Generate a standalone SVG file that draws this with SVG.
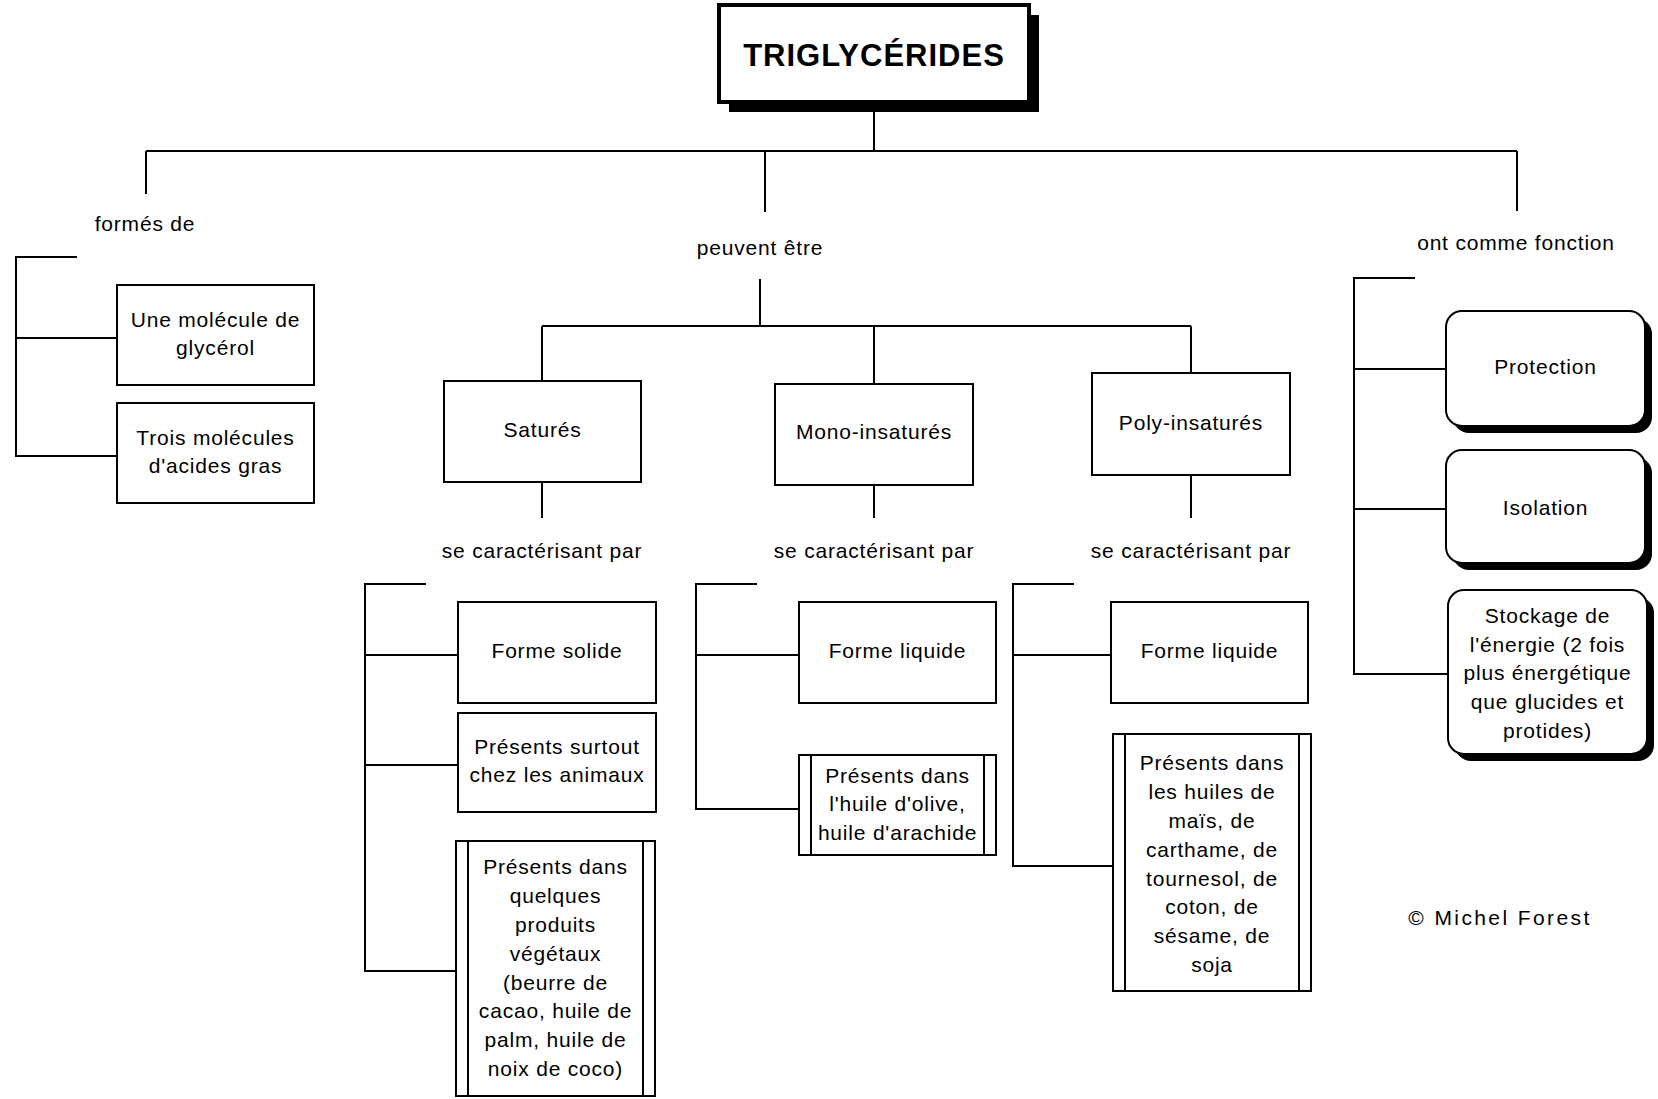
<svg xmlns="http://www.w3.org/2000/svg" width="1658" height="1099" viewBox="0 0 1658 1099">
  <style>
    .ln { stroke:#000; stroke-width:2; fill:none; }
    .box { fill:#fff; stroke:#000; stroke-width:2; }
    .shadow { fill:#000; }
    .t { font-family:"Liberation Sans", Arial, sans-serif; font-size:21px; letter-spacing:0.8px; fill:#000; text-anchor:middle; }
    .title { font-family:"Liberation Sans", Arial, sans-serif; font-size:31px; font-weight:bold; letter-spacing:1px; fill:#000; text-anchor:middle; }
    .copy { font-family:"Liberation Sans", Arial, sans-serif; font-size:21px; letter-spacing:2.4px; fill:#000; text-anchor:middle; }
  </style>
  <rect width="1658" height="1099" fill="#fff"/>

  <!-- tree connectors -->
  <g id="connectors" class="ln">
    <path d="M874 103 V151"/>
    <path d="M146 151 H1517"/>
    <path d="M146 151 V194"/>
    <path d="M765 151 V212"/>
    <path d="M1517 151 V211"/>
    <!-- formés de -->
    <path d="M77 257 H16 V456 H117"/>
    <path d="M16 338 H117"/>
    <!-- peuvent être -->
    <path d="M760 279 V326"/>
    <path d="M542 326 H1191"/>
    <path d="M542 326 V381"/>
    <path d="M874 326 V384"/>
    <path d="M1191 326 V373"/>
    <path d="M542 482 V518"/>
    <path d="M874 485 V518"/>
    <path d="M1191 475 V518"/>
    <!-- saturés -->
    <path d="M426 584 H365 V971 H456"/>
    <path d="M365 655 H458"/>
    <path d="M365 765 H458"/>
    <!-- mono-insaturés -->
    <path d="M757 584 H696 V809 H799"/>
    <path d="M696 655 H799"/>
    <!-- poly-insaturés -->
    <path d="M1074 584 H1013 V866 H1113"/>
    <path d="M1013 655 H1111"/>
    <!-- ont comme fonction -->
    <path d="M1415 278 H1354 V674 H1448"/>
    <path d="M1354 369 H1446"/>
    <path d="M1354 509 H1446"/>
  </g>

  <!-- link labels -->
  <g id="labels">
    <text class="t" x="145" y="231">formés de</text>
    <text class="t" x="760" y="255">peuvent être</text>
    <text class="t" x="1516" y="250">ont comme fonction</text>
    <text class="t" x="542" y="558">se caractérisant par</text>
    <text class="t" x="874" y="558">se caractérisant par</text>
    <text class="t" x="1191" y="558">se caractérisant par</text>
  </g>

  <g id="n-title">
    <rect class="shadow" x="729" y="15" width="310" height="97"/>
    <rect x="719" y="5" width="310" height="97" fill="#fff" stroke="#000" stroke-width="4"/>
    <text class="title" x="874" y="66">TRIGLYCÉRIDES</text>
  </g>

  <g id="n-glycerol">
    <rect class="box" x="117" y="285" width="197" height="100"/>
    <text class="t" x="215.5" y="327">Une molécule de</text>
    <text class="t" x="215.5" y="355">glycérol</text>
  </g>
  <g id="n-acides">
    <rect class="box" x="117" y="403" width="197" height="100"/>
    <text class="t" x="215.5" y="445">Trois molécules</text>
    <text class="t" x="215.5" y="473">d'acides gras</text>
  </g>

  <g id="n-satures">
    <rect class="box" x="444" y="381" width="197" height="101"/>
    <text class="t" x="542.5" y="437">Saturés</text>
  </g>
  <g id="n-mono">
    <rect class="box" x="775" y="384" width="198" height="101"/>
    <text class="t" x="874" y="439">Mono-insaturés</text>
  </g>
  <g id="n-poly">
    <rect class="box" x="1092" y="373" width="198" height="102"/>
    <text class="t" x="1191" y="430">Poly-insaturés</text>
  </g>

  <g id="n-sat-forme">
    <rect class="box" x="458" y="602" width="198" height="101"/>
    <text class="t" x="557" y="658">Forme solide</text>
  </g>
  <g id="n-sat-animaux">
    <rect class="box" x="458" y="713" width="198" height="99"/>
    <text class="t" x="557" y="754">Présents surtout</text>
    <text class="t" x="557" y="782">chez les animaux</text>
  </g>
  <g id="n-sat-vegetaux">
    <rect class="box" x="456" y="841" width="199" height="255"/>
    <path class="ln" d="M468 841 V1096 M643 841 V1096"/>
    <text class="t" x="555.5" y="874">Présents dans</text>
    <text class="t" x="555.5" y="903">quelques</text>
    <text class="t" x="555.5" y="932">produits</text>
    <text class="t" x="555.5" y="961">végétaux</text>
    <text class="t" x="555.5" y="990">(beurre de</text>
    <text class="t" x="555.5" y="1018">cacao, huile de</text>
    <text class="t" x="555.5" y="1047">palm, huile de</text>
    <text class="t" x="555.5" y="1076">noix de coco)</text>
  </g>

  <g id="n-mono-forme">
    <rect class="box" x="799" y="602" width="197" height="101"/>
    <text class="t" x="897.5" y="658">Forme liquide</text>
  </g>
  <g id="n-mono-huiles">
    <rect class="box" x="799" y="755" width="197" height="100"/>
    <path class="ln" d="M811 755 V855 M984 755 V855"/>
    <text class="t" x="897.5" y="783">Présents dans</text>
    <text class="t" x="897.5" y="811">l'huile d'olive,</text>
    <text class="t" x="897.5" y="840">huile d'arachide</text>
  </g>

  <g id="n-poly-forme">
    <rect class="box" x="1111" y="602" width="197" height="101"/>
    <text class="t" x="1209.5" y="658">Forme liquide</text>
  </g>
  <g id="n-poly-huiles">
    <rect class="box" x="1113" y="734" width="198" height="257"/>
    <path class="ln" d="M1125 734 V991 M1299 734 V991"/>
    <text class="t" x="1212" y="770">Présents dans</text>
    <text class="t" x="1212" y="799">les huiles de</text>
    <text class="t" x="1212" y="828">maïs, de</text>
    <text class="t" x="1212" y="857">carthame, de</text>
    <text class="t" x="1212" y="886">tournesol, de</text>
    <text class="t" x="1212" y="914">coton, de</text>
    <text class="t" x="1212" y="943">sésame, de</text>
    <text class="t" x="1212" y="972">soja</text>
  </g>

  <g id="n-protection">
    <rect class="shadow" x="1453" y="318" width="199" height="115" rx="16"/>
    <rect class="box" x="1446" y="311" width="199" height="115" rx="16"/>
    <text class="t" x="1545.5" y="374">Protection</text>
  </g>
  <g id="n-isolation">
    <rect class="shadow" x="1453" y="457" width="199" height="113" rx="16"/>
    <rect class="box" x="1446" y="450" width="199" height="113" rx="16"/>
    <text class="t" x="1545.5" y="515">Isolation</text>
  </g>
  <g id="n-stockage">
    <rect class="shadow" x="1455" y="597" width="199" height="164" rx="16"/>
    <rect class="box" x="1448" y="590" width="199" height="164" rx="16"/>
    <text class="t" x="1547.5" y="623">Stockage de</text>
    <text class="t" x="1547.5" y="652">l'énergie (2 fois</text>
    <text class="t" x="1547.5" y="680">plus énergétique</text>
    <text class="t" x="1547.5" y="709">que glucides et</text>
    <text class="t" x="1547.5" y="738">protides)</text>
  </g>

  <text class="copy" x="1500" y="925">© Michel Forest</text>
</svg>
